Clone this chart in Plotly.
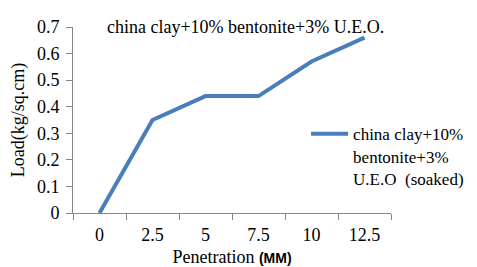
import plotly.graph_objects as go

categories = ["0", "2.5", "5", "7.5", "10", "12.5"]
load_values = [0, 0.35, 0.44, 0.44, 0.57, 0.66]
series_name = "china clay+10%<br>bentonite+3%<br>U.E.O  (soaked)"
chart_title = "china clay+10% bentonite+3% U.E.O."

serif = "Liberation Serif"

fig = go.Figure()
fig.add_trace(go.Scatter(
    x=categories, y=load_values, mode="lines", name=series_name,
    line=dict(color="#4A7EBB", width=4),
))

# page body has an 8px default margin, so the figure is sized to fit inside
fig.update_layout(
    width=469, height=259,
    margin=dict(l=65, r=86, t=19, b=54, autoexpand=False),
    paper_bgcolor="white", plot_bgcolor="white",
    font=dict(family=serif, size=18, color="black"),
    showlegend=True,
    legend=dict(x=0.733, xanchor="left", y=0.52, yanchor="top",
                valign="top", font=dict(family=serif, size=17),
                itemwidth=37,
                bgcolor="rgba(0,0,0,0)", tracegroupgap=0),
    annotations=[dict(text=chart_title, xref="paper", yref="paper",
                      x=0.544, y=1.0, xanchor="center", yanchor="middle",
                      showarrow=False, font=dict(family=serif, size=18))],
)
fig.update_xaxes(
    type="category", range=[-0.5, 5.5], tickson="boundaries",
    ticks="outside", ticklen=6, tickcolor="#868686",
    showline=True, linecolor="#868686", linewidth=1,
    showgrid=False, zeroline=False, automargin=False,
    ticklabelstandoff=5,
    tickfont=dict(family=serif, size=18),
    title=dict(text="Penetration <span style='font-family:Liberation Sans;font-weight:bold;font-size:14px'>(MM)</span>",
               font=dict(family=serif, size=18)),
)
fig.update_yaxes(
    range=[0, 0.7], dtick=0.1,
    ticks="outside", ticklen=6, tickcolor="#868686",
    showline=True, linecolor="#868686", linewidth=1,
    showgrid=False, zeroline=False, automargin=False,
    ticklabelstandoff=3,
    tickfont=dict(family=serif, size=18),
    title=dict(text="Load(kg/sq.cm)", font=dict(family=serif, size=18)),
)

fig.write_html("out.html")
